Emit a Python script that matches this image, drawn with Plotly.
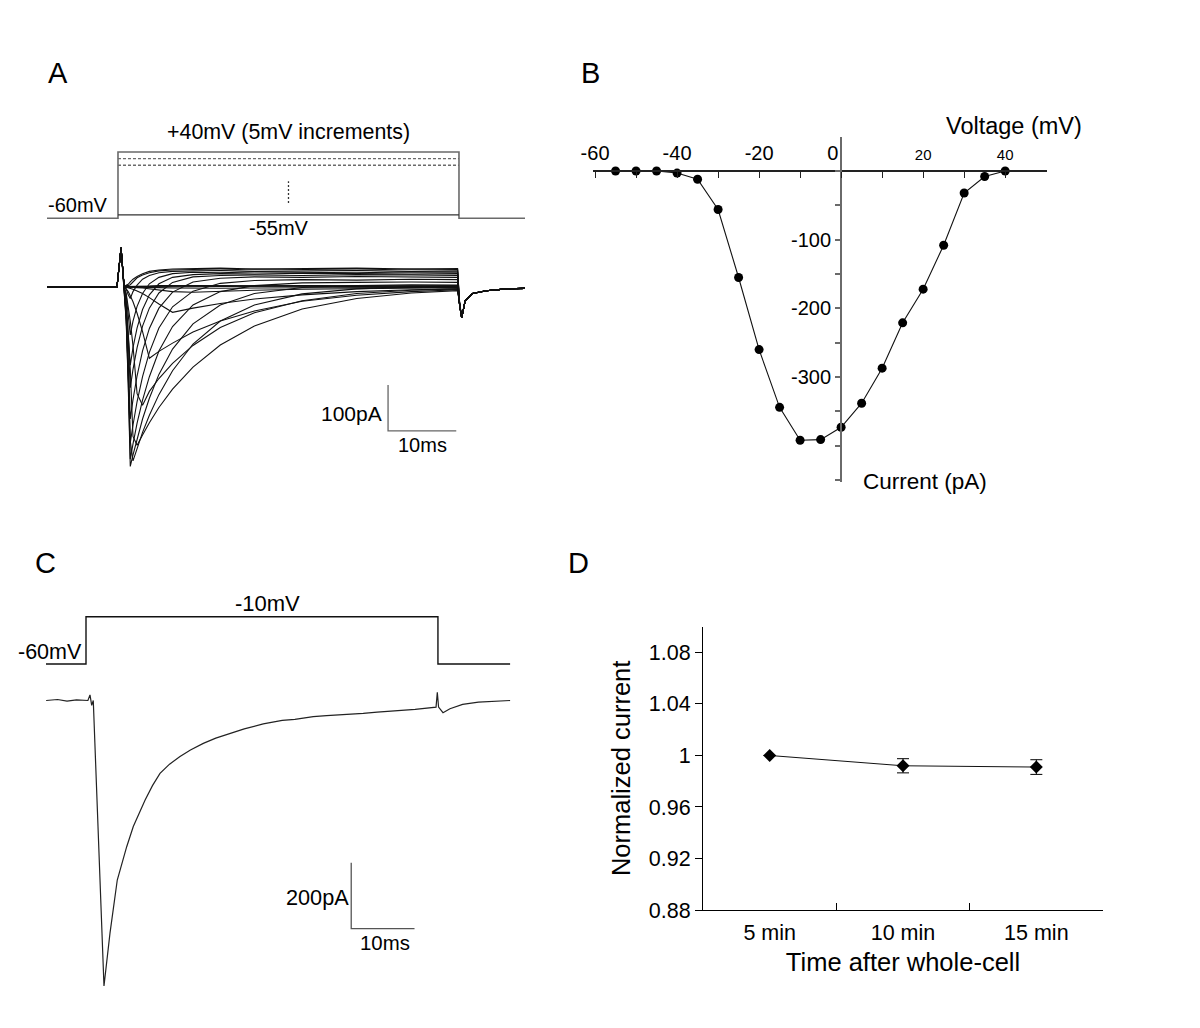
import plotly.graph_objects as go

W, H = 1200, 1028
FONT = "Liberation Sans, Arial, sans-serif"

# ---------------- Panel A : protocol (schematic, mV) ----------------
A_proto_t = [-10.41, 0, 0, 50, 50, 59.68]
A_proto_v = [-60, -60, 40, 40, -60, -60]
A_step_t = [0, 50]
A_low_v = -55
A_mid_levels = [30, 20]
A_dots_t = [25, 25]
A_dots_v = [-37, -4]

# ---------------- Panel A : current family (ms, pA) ----------------
A_pre_t = [-10.41, -0.15, 0.45]
A_pre_i = [0, 0, 85]
A_step_times = [0.9, 1.2, 1.5, 1.8, 2.2, 2.8, 3.6, 4.6, 6, 8, 11, 15, 20, 27, 35, 43, 49.8]
A_tail_t = [50.1, 50.4, 50.9, 52, 54, 57, 59.68]
A_tail_i = [-40, -67, -30, -14, -8, -4, -3]

A_i_m55 = [0, 1, 1, 1, 2, 2, 2, 2, 3, 3, 2, 3, 3, 2, 3, 3, 2]
A_i_m50 = [0, 0, 1, 1, 1, 1, 2, 2, 2, 2, 3, 2, 2, 3, 2, 2, 3]
A_i_m45 = [0, 0, 0, 0, 0, 1, 1, 1, 1, 1, 1, 1, 2, 1, 1, 2, 1]
A_i_m40 = [0, 0, 0, 0, -0.2, -0.3, -0.5, -0.8, -1.3, -2, -2.8, -2.6, -2.2, -1.7, -1.2, -0.8, -0.6]
A_i_m35 = [0, 0, 0, -0.4, -0.8, -1.4, -2.3, -3.7, -6, -10, -11.5, -9, -7, -5, -3.3, -2.2, -1.6]
A_i_m30 = [0, -0.5, -1.5, -2.7, -4.8, -8.5, -14, -23, -37, -55, -46, -36, -26, -17, -10, -6, -4]
A_i_m25 = [0, -4, -10, -19, -32, -57, -97, -155, -140, -122, -98, -74, -52, -31, -18, -10, -6]
A_i_m20 = [0, -14, -40, -74, -128, -232, -257, -227, -199, -166, -127, -88, -56, -30, -14, -7, -4]
A_i_m15 = [0, -35, -98, -179, -325, -344, -322, -295, -262, -222, -174, -126, -85, -48, -25, -13, -8]
A_i_m10 = [0, -64, -182, -335, -378, -350, -316, -279, -234, -182, -124, -74, -39, -15, -4, 0, 1]
A_i_m5 = [0, -74, -212, -390, -365, -329, -287, -242, -190, -135, -80, -39, -14, -1, 3, 5, 4]
A_i_0 = [0, -70, -203, -374, -341, -296, -246, -195, -139, -86, -39, -10, 3, 9, 10, 11, 10]
A_i_p5 = [0, -63, -184, -339, -300, -249, -195, -142, -89, -43, -9, 8, 14, 16, 15, 17, 16]
A_i_p10 = [0, -53, -155, -287, -245, -193, -139, -90, -46, -11, 11, 19, 22, 21, 23, 22, 21]
A_i_p15 = [0, -40, -117, -219, -179, -132, -85, -46, -13, 10, 22, 25, 26, 25, 27, 26, 25]
A_i_p20 = [0, -30, -90, -170, -132, -89, -49, -17, 7, 21, 27, 29, 28, 30, 29, 28, 29]
A_i_p25 = [0, -17, -54, -104, -74, -42, -14, 7, 21, 29, 32, 31, 33, 32, 31, 33, 32]
A_i_p30 = [0, -4, -17, -25, -10, 4, 17, 25, 31, 34, 35, 36, 34, 35, 36, 34, 35]
A_i_p35 = [0, 3, 3, 5, 12, 20, 26, 31, 35, 37, 38, 37, 39, 38, 37, 39, 38]
A_i_p40 = [0, 4, 6, 11, 17, 23, 29, 34, 37, 39, 40, 41, 39, 40, 41, 39, 40]

A_family = [A_i_m55, A_i_m50, A_i_m45, A_i_m40, A_i_m35, A_i_m30, A_i_m25,
            A_i_m20, A_i_m15, A_i_m10, A_i_m5, A_i_0, A_i_p5, A_i_p10,
            A_i_p15, A_i_p20, A_i_p25, A_i_p30, A_i_p35, A_i_p40]

A_bar_t = [39.6, 39.6, 49.6]
A_bar_i = [-213, -313, -313]

# ---------------- Panel B : I-V relation ----------------
IV_V = [-55, -50, -45, -40, -35, -30, -25, -20, -15, -10, -5, 0, 5, 10, 15, 20, 25, 30, 35, 40]
IV_I = [0, 0, 0, -3, -12, -56, -155, -260, -344, -392, -391, -373, -338, -287, -221, -172, -108, -32, -8, 0]
B_xticks = [-60, -50, -40, -30, -20, -10, 0, 10, 20, 30, 40, 50]
B_xtext = ["-60", "", "-40", "", "-20", "", "0&nbsp;&nbsp;&nbsp;", "",
           "<span style='font-size:15px'>20</span>", "",
           "<span style='font-size:15px'>40</span>", ""]
B_yticks = [-450, -400, -350, -300, -250, -200, -150, -100, -50, 0, 50]
B_ytext = ["", "", "", "-300", "", "-200", "", "-100", "", "", ""]

# ---------------- Panel C : protocol and single trace ----------------
C_proto_t = [-6.32, 0, 0, 55.6, 55.6, 67]
C_proto_v = [-60, -60, -10, -10, -60, -60]
C_t = [-6.3, -4.5, -3, -1.5, 0.3, 0.63, 0.9, 1.15, 2.84, 3.79, 4.94, 6.43, 7.47,
       8.4, 9.32, 10.5, 11.69, 13.2, 14.85, 16.5, 18.53, 20.5, 22.75, 25, 28.0,
       31, 33, 35.9, 38, 40, 43.8, 46, 49.1, 52, 55.3, 55.5, 55.7, 56.4, 57.5,
       59.5, 62, 64.5, 67]
C_I = [0, 3, -2, 2, 0, 17, -15, 0, -865, -705, -544, -443, -382,
       -340, -302, -258, -221, -193, -170, -150, -130, -114, -99, -86, -71,
       -60, -57, -49, -46, -44, -39, -35, -31, -27, -20, 25, -20, -37, -25,
       -12, -5, -2, 0]
C_bar_t = [41.9, 41.9, 51.9]
C_bar_i = [-491.5, -691.5, -691.5]

# ---------------- Panel D : stability ----------------
D_cat = ["5 min", "10 min", "15 min"]
D_mean = [1.0, 0.992, 0.991]
D_sem = [0, 0.0055, 0.0057]
D_yticks = [0.88, 0.92, 0.96, 1.0, 1.04, 1.08]
D_ytext = ["0.88", "0.92", "0.96", "1", "1.04", "1.08"]


def px(x):
    return x / W


def py(y):
    return 1 - y / H


fig = go.Figure()

# Panel A protocol
gray = "#6a6a6a"
fig.add_trace(go.Scatter(x=A_proto_t, y=A_proto_v, mode="lines",
                         line=dict(color=gray, width=1.6), xaxis="x", yaxis="y"))
fig.add_trace(go.Scatter(x=A_step_t, y=[A_low_v, A_low_v], mode="lines",
                         line=dict(color="#333333", width=1.3), xaxis="x", yaxis="y"))
for lv in A_mid_levels:
    fig.add_trace(go.Scatter(x=A_step_t, y=[lv, lv], mode="lines",
                             line=dict(color=gray, width=1.3, dash="3px,2px"),
                             xaxis="x", yaxis="y"))
fig.add_trace(go.Scatter(x=A_dots_t, y=A_dots_v, mode="lines",
                         line=dict(color="#333333", width=1.3, dash="2px,2px"),
                         xaxis="x", yaxis="y"))

# Panel A currents
for cur in A_family:
    fig.add_trace(go.Scatter(
        x=A_pre_t + A_step_times + A_tail_t,
        y=A_pre_i + cur + A_tail_i,
        mode="lines", line=dict(color="#111111", width=1.1),
        xaxis="x2", yaxis="y2"))
fig.add_trace(go.Scatter(x=A_bar_t, y=A_bar_i, mode="lines",
                         line=dict(color="#666666", width=1.3), xaxis="x2", yaxis="y2"))

# Panel B
fig.add_trace(go.Scatter(x=IV_V, y=IV_I, mode="lines+markers",
                         line=dict(color="#111111", width=1.1),
                         marker=dict(color="#000000", size=9),
                         xaxis="x3", yaxis="y3"))

# Panel C
fig.add_trace(go.Scatter(x=C_proto_t, y=C_proto_v, mode="lines",
                         line=dict(color="#111111", width=1.4), xaxis="x4", yaxis="y4"))
fig.add_trace(go.Scatter(x=C_t, y=C_I, mode="lines",
                         line=dict(color="#222222", width=1.2), xaxis="x5", yaxis="y5"))
fig.add_trace(go.Scatter(x=C_bar_t, y=C_bar_i, mode="lines",
                         line=dict(color="#555555", width=1.3), xaxis="x5", yaxis="y5"))

# Panel D
fig.add_trace(go.Scatter(x=D_cat, y=D_mean, mode="lines+markers",
                         line=dict(color="#111111", width=1),
                         marker=dict(symbol="diamond", size=10, color="#000000"),
                         error_y=dict(type="data", array=D_sem, color="#000000",
                                      thickness=1, width=6),
                         xaxis="x6", yaxis="y6"))

hidden = dict(visible=False, showgrid=False, zeroline=False, automargin=False)

annotations = []


def label(text, x, y, size, **kw):
    annotations.append(dict(text=text, x=px(x), y=py(y), xref="paper", yref="paper",
                            showarrow=False, xanchor="center", yanchor="middle",
                            font=dict(family=FONT, size=size, color="#000000"), **kw))


label("A", 58, 73, 29)
label("B", 590, 73, 29)
label("C", 45, 563, 29)
label("D", 578, 563, 29)
label("+40mV (5mV increments)", 288, 132, 21.4)
label("-60mV", 78, 205, 20)
label("-55mV", 279, 228, 20)
label("100pA", 351, 413, 21)
label("10ms", 422, 445, 20)
label("Voltage (mV)", 1014, 126, 23.5)
label("Current (pA)", 925, 481, 22.5)
label("-10mV", 267, 603, 22)
label("-60mV", 50, 652, 21.5)
label("200pA", 317, 897, 21.7)
label("10ms", 385, 943, 20.4)

fig.update_layout(
    template="none",
    width=W, height=H, margin=dict(l=0, r=0, t=0, b=0, pad=0, autoexpand=False),
    paper_bgcolor="white", plot_bgcolor="rgba(0,0,0,0)", showlegend=False,
    font=dict(family=FONT, color="#000000"),
    annotations=annotations,
    # A protocol
    xaxis=dict(domain=[px(47), px(525)], range=[-10.41, 59.68], anchor="y", **hidden),
    yaxis=dict(domain=[py(225), py(145)], range=[-70.15, 50.6], anchor="x", **hidden),
    # A currents
    xaxis2=dict(domain=[px(47), px(525)], range=[-10.41, 59.68], anchor="y2", **hidden),
    yaxis2=dict(domain=[py(480), py(240)], range=[-419.6, 102.2], anchor="x2", **hidden),
    # B
    xaxis3=dict(domain=[px(593), px(1047)], range=[-60.5, 50.2], anchor="free",
                position=py(171), side="top", showline=True, linecolor="#222222",
                linewidth=1.5, ticks="inside", ticklen=6, tickcolor="#222222",
                tickwidth=1.3, tickvals=B_xticks, ticktext=B_xtext,
                tickfont=dict(family=FONT, size=20, color="#000000"),
                ticklabelstandoff=2, showgrid=False, zeroline=False, automargin=False),
    yaxis3=dict(domain=[py(482), py(137)], range=[-452.7, 49.5], anchor="free",
                position=px(841), side="left", showline=True, linecolor="#6a6a6a",
                linewidth=2, ticks="outside", ticklen=5, tickcolor="#6a6a6a",
                tickwidth=1.5, tickvals=B_yticks, ticktext=B_ytext,
                tickfont=dict(family=FONT, size=20, color="#000000"),
                showgrid=False, zeroline=False, automargin=False),
    # C protocol
    xaxis4=dict(domain=[px(46), px(517)], range=[-6.32, 68.09], anchor="y4", **hidden),
    yaxis4=dict(domain=[py(672), py(600)], range=[-68.5, 7.65], anchor="x4", **hidden),
    # C trace
    xaxis5=dict(domain=[px(46), px(517)], range=[-6.32, 68.09], anchor="y5", **hidden),
    yaxis5=dict(domain=[py(995), py(690)], range=[-892.4, 31.8], anchor="x5", **hidden),
    # D
    xaxis6=dict(domain=[px(703), px(1103)], type="category", range=[-0.5, 2.5],
                anchor="y6", showline=True, linecolor="#000000", linewidth=1,
                ticks="inside", tickson="boundaries", ticklen=7, tickcolor="#000000",
                tickfont=dict(family=FONT, size=21.5, color="#000000"),
                ticklabelstandoff=3, showgrid=False, zeroline=False, automargin=False,
                title=dict(text="Time after whole-cell",
                           font=dict(family=FONT, size=25.5, color="#000000"),
                           standoff=9)),
    yaxis6=dict(domain=[py(910), py(626.7)], range=[0.88, 1.10], anchor="x6",
                showline=True, linecolor="#000000", linewidth=1,
                ticks="outside", ticklen=7, tickcolor="#000000",
                tickvals=D_yticks, ticktext=D_ytext,
                tickfont=dict(family=FONT, size=21.5, color="#000000"),
                showgrid=False, zeroline=False, automargin=False,
                title=dict(text="Normalized current",
                           font=dict(family=FONT, size=25.5, color="#000000"),
                           standoff=10)),
)

fig.write_html("out.html", config={"displayModeBar": False},
               post_script="document.body.style.margin='0px';")
